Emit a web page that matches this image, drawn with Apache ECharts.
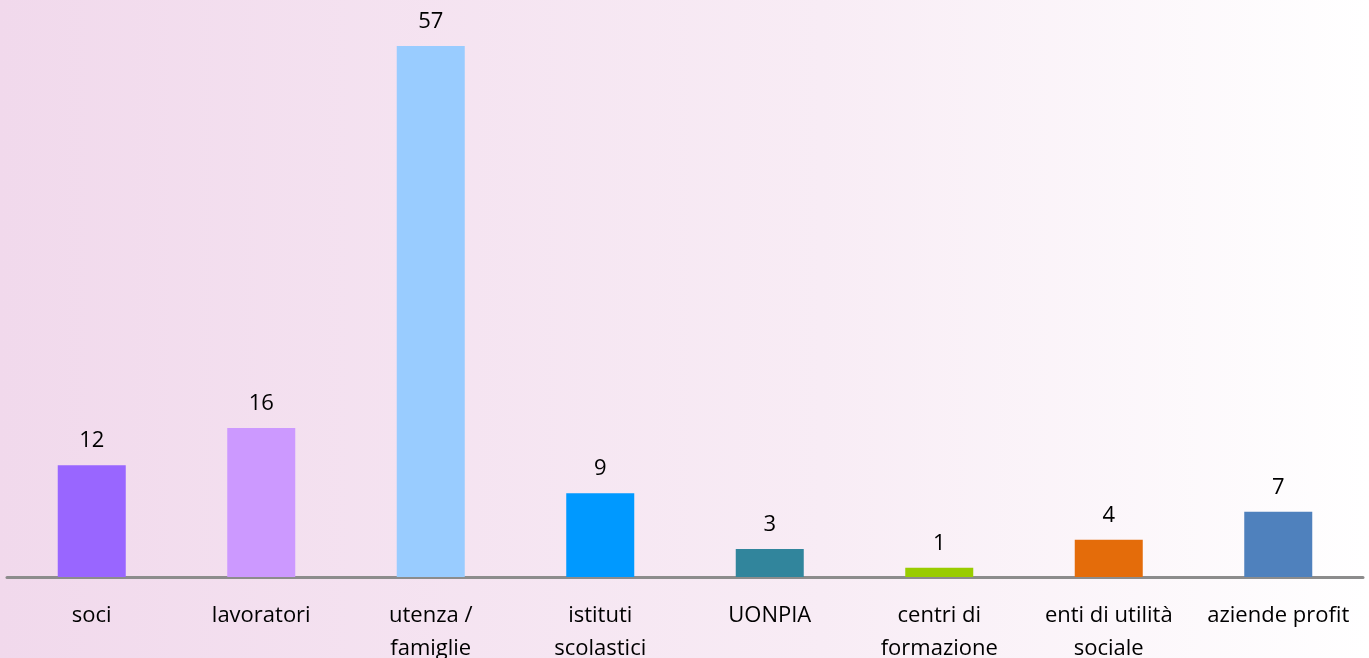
<!DOCTYPE html>
<html>
<head>
<meta charset="utf-8">
<script src="https://cdn.jsdelivr.net/npm/echarts@6/dist/echarts.min.js"></script>
<style>
html,body{margin:0;padding:0;width:1369px;height:658px;overflow:hidden;}
#c{width:1369px;height:658px;}
</style>
</head>
<body>
<div id="c"></div>
<script>
var categories = ['soci', 'lavoratori', 'utenza /\nfamiglie', 'istituti\nscolastici', 'UONPIA', 'centri di\nformazione', 'enti di utilità\nsociale', 'aziende profit'];
var values = [12, 16, 57, 9, 3, 1, 4, 7];
var barColors = ['#9966FF', '#CC99FF', '#99CCFF', '#0099FF', '#31859C', '#99CC00', '#E46C0A', '#4F81BD'];

var chart = echarts.init(document.getElementById('c'));
chart.setOption({
  backgroundColor: new echarts.graphic.LinearGradient(0, 0, 1, 0, [
    {offset: 0, color: '#F1D9EC'},
    {offset: 0.6, color: '#F8ECF5'},
    {offset: 1, color: '#FFFFFF'}
  ]),
  animation: false,
  grid: {left: 7, right: 6, top: 46, bottom: 81, containLabel: false, outerBoundsMode: 'none'},
  xAxis: {
    type: 'category',
    data: categories,
    axisLine: {lineStyle: {color: '#8C8C8C', width: 3}},
    axisTick: {show: false},
    axisLabel: {
      interval: 0,
      margin: 22,
      fontSize: 22,
      lineHeight: 33,
      color: '#000',
      fontFamily: 'Open Sans'
    }
  },
  yAxis: {
    type: 'value',
    min: 0,
    max: 57,
    show: false,
    splitLine: {show: false}
  },
  series: [{
    type: 'bar',
    data: values.map(function (v, i) { return {value: v, itemStyle: {color: barColors[i]}}; }),
    barWidth: 68,
    label: {
      show: true,
      position: 'top',
      distance: 13,
      fontSize: 22,
      color: '#000',
      fontFamily: 'Open Sans'
    }
  }]
});
</script>
</body>
</html>
